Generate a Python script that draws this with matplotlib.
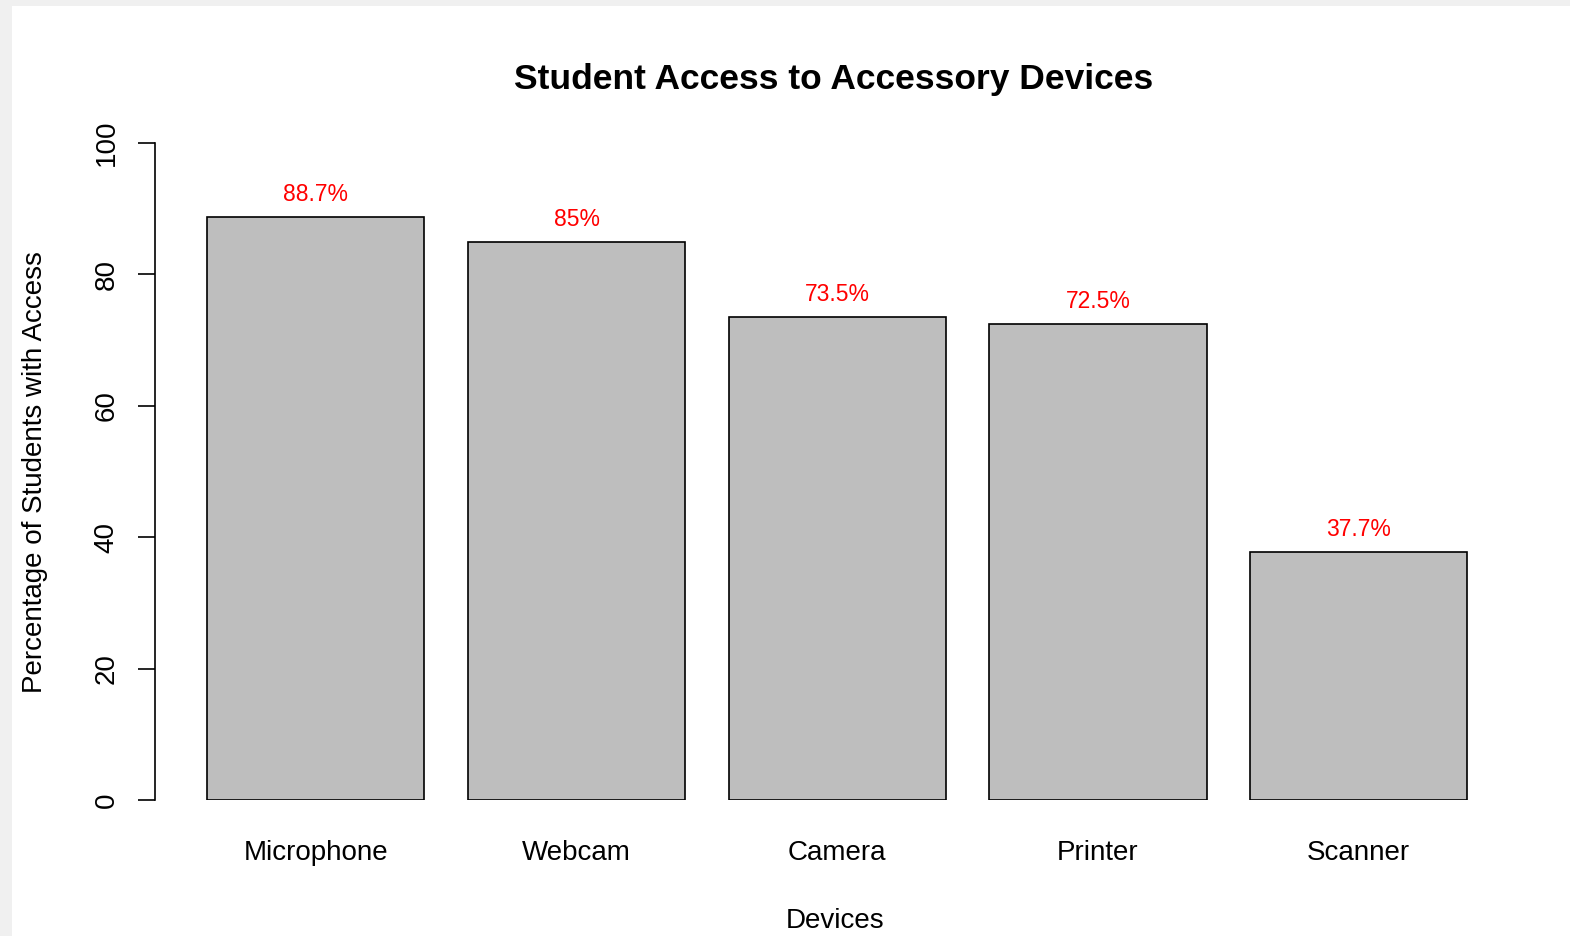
import matplotlib
matplotlib.use("Agg")
import matplotlib.pyplot as plt
import numpy as np

# === Data ===
devices = ["Microphone", "Webcam", "Camera", "Printer", "Scanner"]
access_pct = [88.7, 85, 73.5, 72.5, 37.7]
y_ticks = [0, 20, 40, 60, 80, 100]

plt.rcParams['font.family'] = ['Liberation Sans', 'DejaVu Sans']

W, H = 1570, 936
fig = plt.figure(figsize=(W / 100, H / 100), dpi=100, facecolor="#f0f0f0")

# white panel (screenshot has a light grey frame top/left)
fig.patches.append(plt.Rectangle((12 / W, 0), 1 - 12 / W, 1 - 6 / H,
                                 transform=fig.transFigure, facecolor="white",
                                 edgecolor="none", zorder=-10))

# axes placed in pixel terms, R-style barplot (width 1, space 0.2)
ax = fig.add_axes([155 / W, (H - 800) / H, (1563 - 155) / W, (800 - 143) / H])
ax.set_facecolor("none")

x = 0.7 + 1.2 * np.arange(len(devices))
ax.bar(x, access_pct, width=1.0, color="#bebebe", edgecolor="black", linewidth=1.2)

# value labels
for xi, v in zip(x, access_pct):
    ax.text(xi, v + 3.4, f"{v:g}%", color="red", ha="center", va="center", fontsize=16.5)

ax.set_xlim(-0.04, 6.44)
ax.set_ylim(0, 100)

# y axis like R: line from 0 to 100, rotated labels
for s in ["top", "right", "bottom"]:
    ax.spines[s].set_visible(False)
ax.spines["left"].set_bounds(0, 100)
ax.spines["left"].set_linewidth(1.2)
ax.set_yticks(y_ticks)
ax.set_yticklabels([str(t) for t in y_ticks], rotation=90, va="center", fontsize=20)
ax.tick_params(axis="y", length=12, width=1.2, pad=13.5)

ax.set_xticks(x)
ax.set_xticklabels(devices, fontsize=20)
ax.tick_params(axis="x", length=0, pad=29)

# titles
fig.text(834 / W, (H - 89) / H, "Student Access to Accessory Devices",
         ha="center", va="baseline", fontsize=25.5, fontweight="bold")
fig.text(835 / W, (H - 928) / H, "Devices", ha="center", va="baseline", fontsize=20)
fig.text(35 / W, (H - 472) / H, "Percentage of Students with Access",
         ha="center", va="center", rotation=90, fontsize=20)

fig.savefig("out.png", dpi=100, facecolor=fig.get_facecolor())
